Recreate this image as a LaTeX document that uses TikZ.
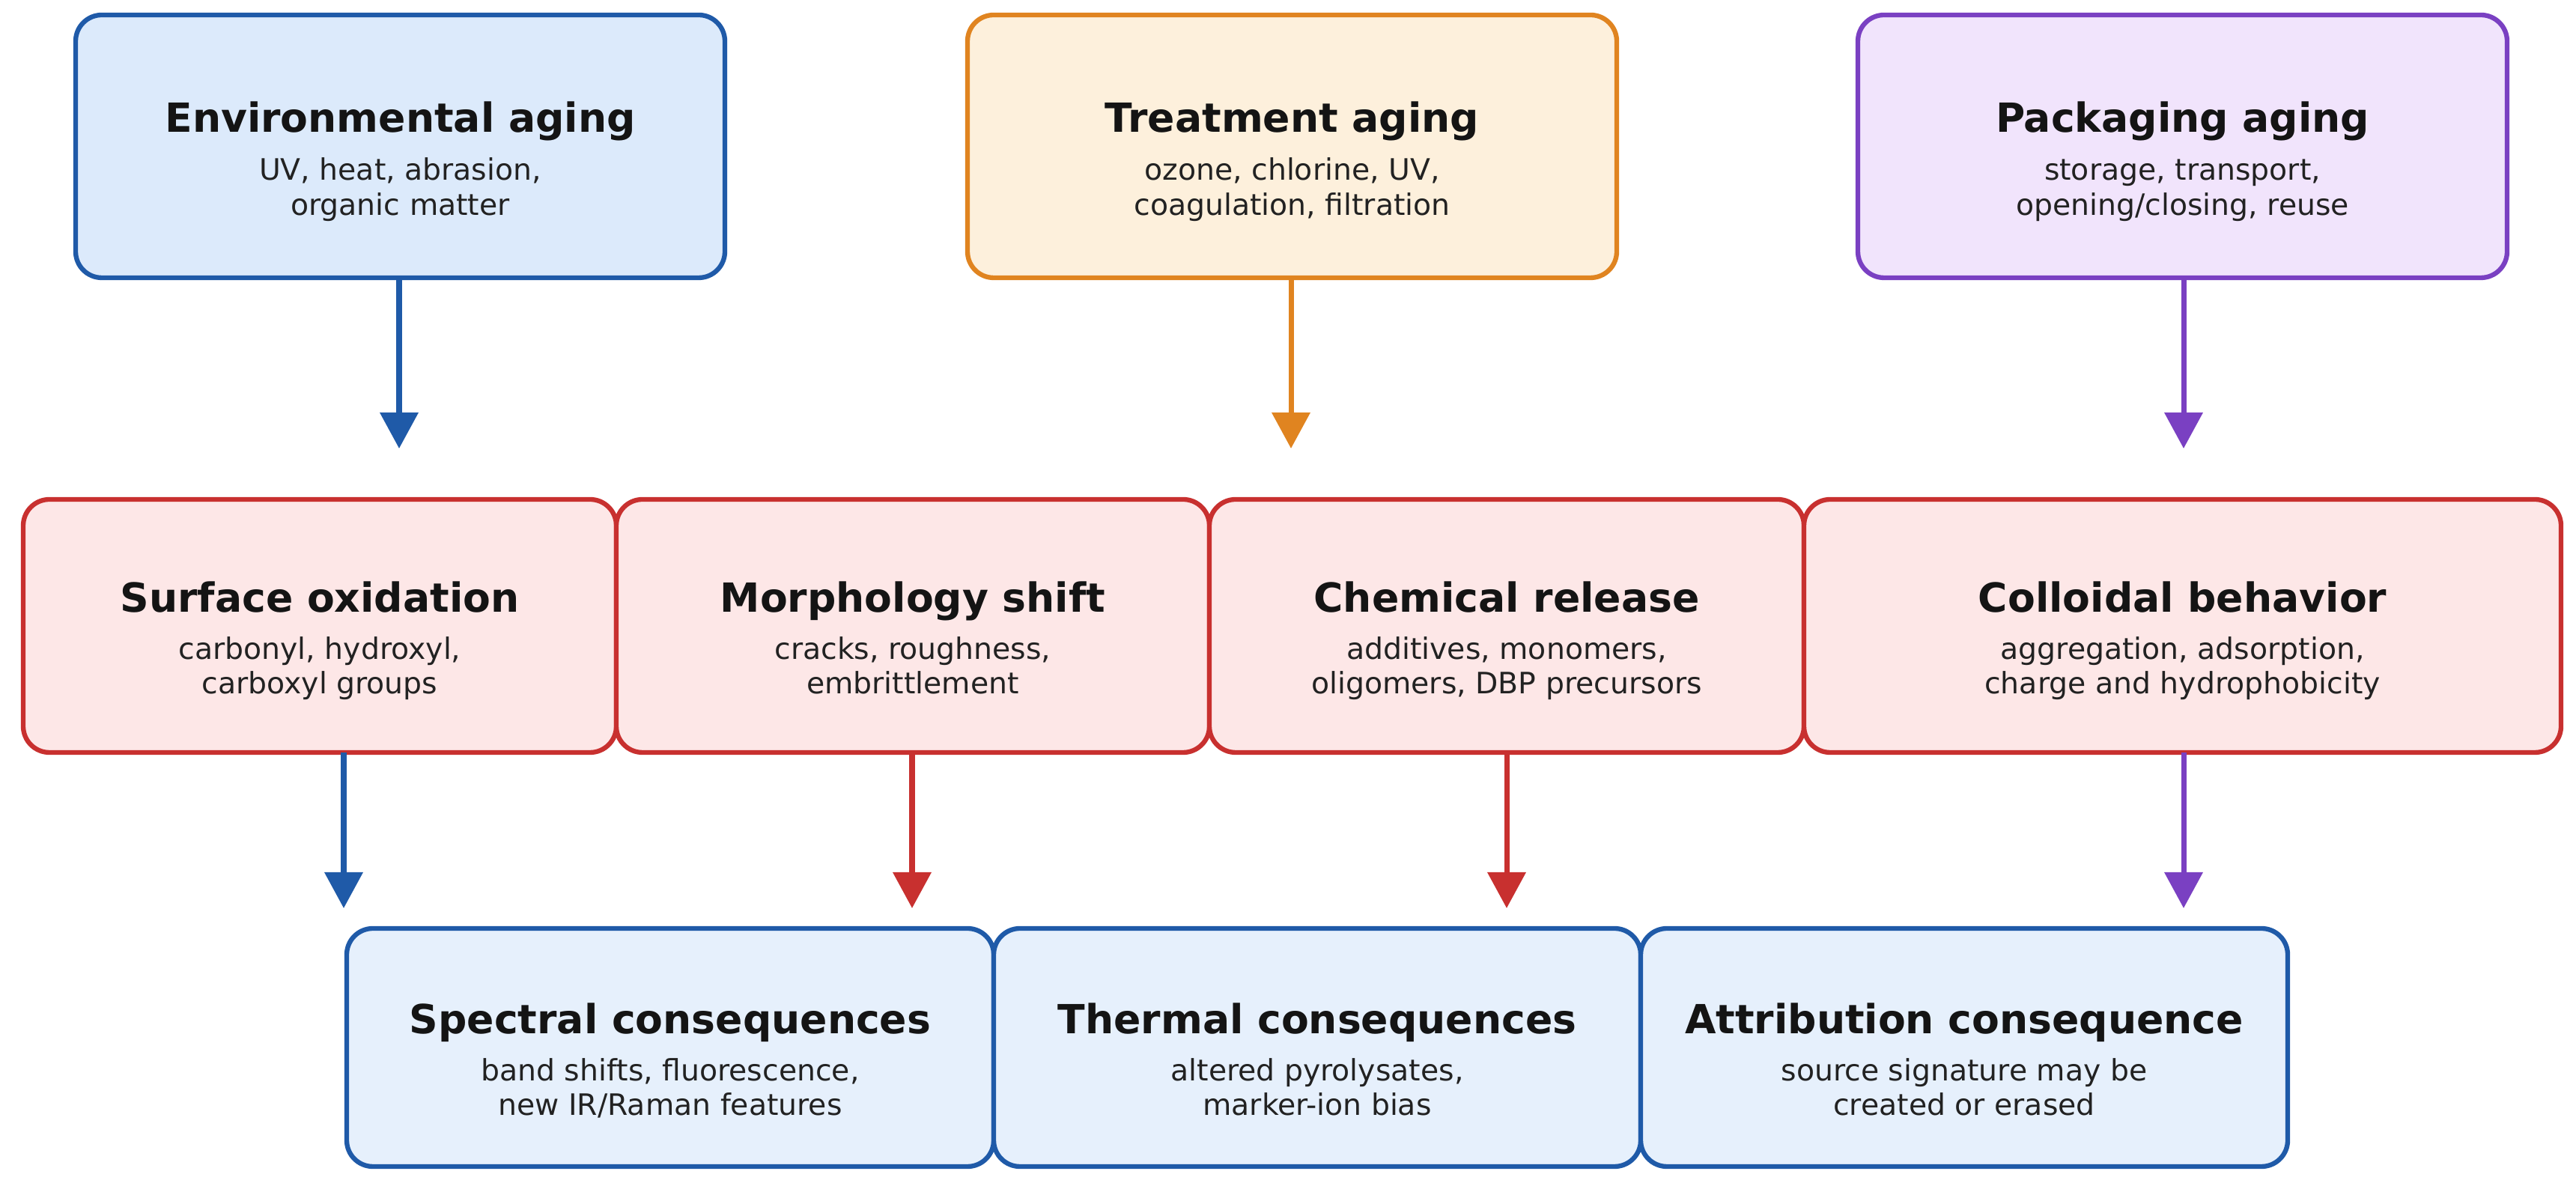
\documentclass[tikz,border=0pt]{standalone}
\usepackage{fontspec}
\setmainfont{DejaVu Sans}
\usepackage{xcolor}
\usetikzlibrary{positioning,arrows.meta}

\definecolor{envline}{HTML}{1F5AA8}
\definecolor{envfill}{HTML}{DCEAFB}
\definecolor{trtline}{HTML}{E08420}
\definecolor{trtfill}{HTML}{FDF0DC}
\definecolor{pkgline}{HTML}{7A40C2}
\definecolor{pkgfill}{HTML}{F1E4FC}
\definecolor{effline}{HTML}{C8302F}
\definecolor{efffill}{HTML}{FDE7E7}
\definecolor{conffill}{HTML}{E6F0FC}
\definecolor{subtext}{HTML}{222222}

\newcommand{\boxtitle}[1]{{\fontsize{15.25}{18}\selectfont\bfseries\color{black!92}\rule{0pt}{24.5pt}#1}}

\begin{document}
\begin{tikzpicture}[font=\fontsize{11.2}{13.2}\selectfont, text=subtext,
  box/.style={draw, rounded corners=0.35cm, line width=1.8pt, align=center, inner sep=0pt, outer sep=0pt},
  src/.style={box, minimum width=8.67cm, minimum height=3.51cm},
  eff/.style={box, draw=effline, fill=efffill, minimum width=7.92cm, minimum height=3.38cm},
  con/.style={box, draw=envline, fill=conffill, minimum width=8.64cm, minimum height=3.18cm},
  arr/.style={-{Triangle[length=0.48cm, width=0.5cm]}, line width=2pt}]
\useasboundingbox (0,0) rectangle (34.4,15.88);
% sources of aging
\node[src, draw=envline, fill=envfill] (env) at (5.345,13.925) {\boxtitle{Environmental aging}\\[5.2pt] UV, heat, abrasion,\\ organic matter\strut};
\node[src, draw=trtline, fill=trtfill, right=3.24cm of env] (trt) {\boxtitle{Treatment aging}\\[5.2pt] ozone, chlorine, UV,\\ coagulation, filtration\strut};
\node[src, draw=pkgline, fill=pkgfill, right=3.22cm of trt] (pkg) {\boxtitle{Packaging aging}\\[5.2pt] storage, transport,\\ opening/closing, reuse\strut};
% effects on the particles
\node[eff] (surf) at (4.27,7.52) {\boxtitle{Surface oxidation}\\[4.6pt] carbonyl, hydroxyl,\\ carboxyl groups\strut};
\node[eff, right=0cm of surf] (morph) {\boxtitle{Morphology shift}\\[4.6pt] cracks, roughness,\\ embrittlement\strut};
\node[eff, minimum width=7.94cm, right=0cm of morph] (chem) {\boxtitle{Chemical release}\\[4.6pt] additives, monomers,\\ oligomers, DBP precursors\strut};
\node[eff, minimum width=10.11cm, right=0cm of chem] (coll) {\boxtitle{Colloidal behavior}\\[4.6pt] aggregation, adsorption,\\ charge and hydrophobicity\strut};
% analytical consequences
\node[con] (spec) at (8.95,1.89) {\boxtitle{Spectral consequences}\\[4.6pt] band shifts, fluorescence,\\ new IR/Raman features\strut};
\node[con, right=0cm of spec] (therm) {\boxtitle{Thermal consequences}\\[4.6pt] altered pyrolysates,\\ marker-ion bias\strut};
\node[con, right=0cm of therm] (attr) {\boxtitle{Attribution consequence}\\[4.6pt] source signature may be\\ created or erased\strut};
% arrow ends
\coordinate (e1) at (5.33,9.89);
\coordinate (e2) at (17.24,9.89);
\coordinate (e3) at (29.16,9.89);
\coordinate (f1) at (4.59,3.75);
\coordinate (f2) at (12.18,3.75);
\coordinate (f3) at (20.12,3.75);
\coordinate (f4) at (29.16,3.75);
\draw[arr, envline] (e1 |- env.south) -- (e1);
\draw[arr, trtline] (e2 |- trt.south) -- (e2);
\draw[arr, pkgline] (e3 |- pkg.south) -- (e3);
\draw[arr, envline] (f1 |- surf.south) -- (f1);
\draw[arr, effline] (f2 |- morph.south) -- (f2);
\draw[arr, effline] (f3 |- chem.south) -- (f3);
\draw[arr, pkgline] (f4 |- coll.south) -- (f4);
\end{tikzpicture}
\end{document}
